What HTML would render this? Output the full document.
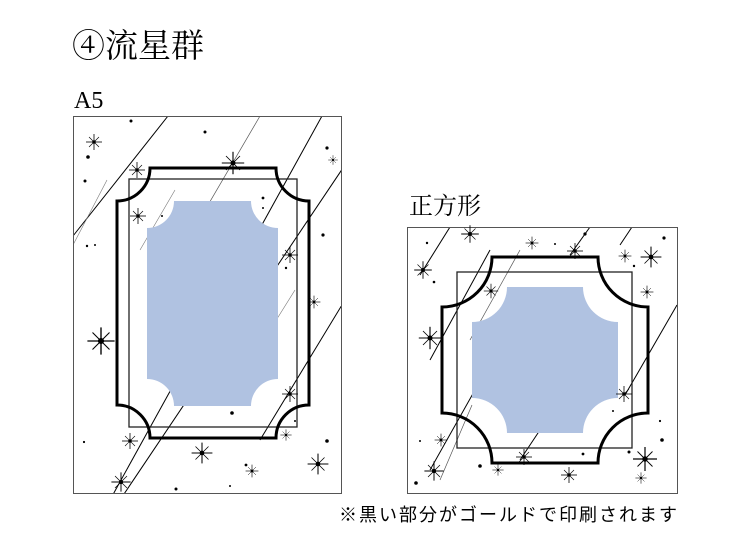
<!DOCTYPE html>
<html><head><meta charset="utf-8"><style>
html,body{margin:0;padding:0;background:#fff;}
svg{display:block}
</style></head><body>
<svg width="750" height="550" viewBox="0 0 750 550" xmlns="http://www.w3.org/2000/svg">
<defs>
<g id="s"><line x1="-8" y1="0" x2="8" y2="0" stroke="#000" stroke-width="0.8"/><line x1="0" y1="-8" x2="0" y2="8" stroke="#000" stroke-width="0.8"/><line x1="-5" y1="-5" x2="5" y2="5" stroke="#000" stroke-width="0.6"/><line x1="-5" y1="5" x2="5" y2="-5" stroke="#000" stroke-width="0.6"/><circle r="1.8" fill="#000"/></g>
<clipPath id="c1"><rect x="73" y="116" width="268" height="377"/></clipPath>
<clipPath id="c2"><rect x="407" y="227" width="270" height="266"/></clipPath>
</defs>
<text x="72" y="57" font-family="'Liberation Serif','Noto Serif CJK SC',serif" font-size="33">④流星群</text>
<text x="74" y="108" font-family="'Liberation Serif','Noto Serif CJK SC',serif" font-size="24">A5</text>
<text x="409" y="214" font-family="'Liberation Serif','Noto Serif CJK SC',serif" font-size="24">正方形</text>
<text x="339" y="521" font-family="'Liberation Sans','Noto Sans CJK JP',sans-serif" font-size="18" letter-spacing="2">※黒い部分がゴールドで印刷されます</text>

<g clip-path="url(#c1)" stroke="#000" stroke-width="1">
<line x1="168" y1="116" x2="73" y2="236"/>
<line x1="260" y1="116" x2="170" y2="270" stroke="#555" stroke-width="0.7"/>
<line x1="322" y1="116" x2="110" y2="500"/>
<line x1="345" y1="165" x2="120" y2="500"/>
<line x1="345" y1="300" x2="260" y2="440"/>
<line x1="107" y1="180" x2="73" y2="245" stroke="#777" stroke-width="0.6"/>
<line x1="295" y1="290" x2="270" y2="330" stroke="#777" stroke-width="0.6"/>
<line x1="175" y1="190" x2="140" y2="250" stroke="#777" stroke-width="0.6"/>
</g>
<g clip-path="url(#c2)" stroke="#000" stroke-width="1">
<line x1="450" y1="227" x2="420" y2="275"/>
<line x1="490" y1="250" x2="430" y2="360"/>
<line x1="520" y1="250" x2="470" y2="340" stroke="#555" stroke-width="0.7"/>
<line x1="590" y1="227" x2="570" y2="255"/>
<line x1="632" y1="227" x2="620" y2="245"/>
<line x1="677" y1="305" x2="625" y2="395"/>
<line x1="475" y1="390" x2="430" y2="470"/>
<line x1="472" y1="405" x2="440" y2="480" stroke="#555" stroke-width="0.7"/>
<line x1="540" y1="430" x2="520" y2="460"/>
</g>
<rect x="73.5" y="116.5" width="268" height="377" fill="none" stroke="#555" stroke-width="1"/>
<rect x="407.5" y="227.5" width="270" height="266" fill="none" stroke="#555" stroke-width="1"/>

<rect x="129" y="179" width="168" height="248" fill="none" stroke="#222" stroke-width="1.3"/>
<path d="M150,168 H276 A33 33 0 0 0 309,201 V405 A33 33 0 0 0 276,438 H150 A33 33 0 0 0 117,405 V201 A33 33 0 0 0 150,168 Z" fill="none" stroke="#000" stroke-width="3"/>
<path d="M174,201 H251 A27 27 0 0 0 278,228 V379 A27 27 0 0 0 251,406 H174 A27 27 0 0 0 147,379 V228 A27 27 0 0 0 174,201 Z" fill="#b0c2e1"/>

<rect x="457" y="272" width="175" height="176" fill="none" stroke="#222" stroke-width="1.3"/>
<path d="M492,257 H598 A50 50 0 0 0 648,307 V413 A50 50 0 0 0 598,463 H492 A50 50 0 0 0 442,413 V307 A50 50 0 0 0 492,257 Z" fill="none" stroke="#000" stroke-width="3"/>
<path d="M507,287 H583 A35 35 0 0 0 618,322 V398 A35 35 0 0 0 583,433 H507 A35 35 0 0 0 472,398 V322 A35 35 0 0 0 507,287 Z" fill="#b0c2e1"/>

<g>
<use href="#s" transform="translate(94,142)"/>
<use href="#s" transform="translate(137,170)"/>
<use href="#s" transform="translate(233,163) scale(1.4)"/>
<use href="#s" transform="translate(138,216)"/>
<use href="#s" transform="translate(290,255)"/>
<use href="#s" transform="translate(314,302) scale(0.8)"/>
<use href="#s" transform="translate(101,341) scale(1.7)"/>
<use href="#s" transform="translate(290,394)"/>
<use href="#s" transform="translate(130,441)"/>
<use href="#s" transform="translate(202,453) scale(1.3)"/>
<use href="#s" transform="translate(318,464) scale(1.3)"/>
<use href="#s" transform="translate(252,471) scale(0.8)"/>
<use href="#s" transform="translate(121,482) scale(1.2)"/>
<use href="#s" transform="translate(286,435) scale(0.7)"/>
<use href="#s" transform="translate(333,160) scale(0.6)"/>
<use href="#s" transform="translate(470,234) scale(1.1)"/>
<use href="#s" transform="translate(423,270) scale(1.1)"/>
<use href="#s" transform="translate(532,243) scale(0.8)"/>
<use href="#s" transform="translate(575,251)"/>
<use href="#s" transform="translate(651,257) scale(1.3)"/>
<use href="#s" transform="translate(625,256) scale(0.8)"/>
<use href="#s" transform="translate(647,292) scale(0.8)"/>
<use href="#s" transform="translate(430,338) scale(1.4)"/>
<use href="#s" transform="translate(491,291) scale(0.9)"/>
<use href="#s" transform="translate(624,394)"/>
<use href="#s" transform="translate(441,440) scale(0.8)"/>
<use href="#s" transform="translate(524,457)"/>
<use href="#s" transform="translate(645,459) scale(1.5)"/>
<use href="#s" transform="translate(434,471) scale(1.2)"/>
<use href="#s" transform="translate(569,475)"/>
<use href="#s" transform="translate(498,470) scale(0.7)"/>
<use href="#s" transform="translate(641,478) scale(0.7)"/>
</g>
<g fill="#000">
<circle cx="131" cy="121" r="1.5"/><circle cx="205" cy="132" r="1.5"/><circle cx="88" cy="157" r="1.8"/><circle cx="85" cy="181" r="1.5"/><circle cx="87" cy="246" r="1.2"/><circle cx="95" cy="245" r="1"/><circle cx="327" cy="148" r="1.6"/><circle cx="263" cy="198" r="1.4"/><circle cx="263" cy="208" r="1"/><circle cx="323" cy="235" r="1.6"/><circle cx="286" cy="268" r="1.2"/><circle cx="162" cy="216" r="1"/><circle cx="232" cy="413" r="1.8"/><circle cx="327" cy="441" r="1.8"/><circle cx="246" cy="465" r="1.4"/><circle cx="176" cy="489" r="1.5"/><circle cx="84" cy="442" r="1.1"/><circle cx="230" cy="486" r="1"/><circle cx="295" cy="421" r="1"/>
<circle cx="427" cy="243" r="1.2"/><circle cx="434" cy="282" r="1.3"/><circle cx="585" cy="234" r="1.6"/><circle cx="664" cy="238" r="1.6"/><circle cx="555" cy="244" r="1"/><circle cx="634" cy="266" r="1.2"/><circle cx="662" cy="440" r="1.8"/><circle cx="629" cy="452" r="1.5"/><circle cx="583" cy="454" r="1.4"/><circle cx="480" cy="466" r="1.8"/><circle cx="416" cy="483" r="1.8"/><circle cx="420" cy="441" r="1"/><circle cx="660" cy="421" r="1.1"/><circle cx="613" cy="411" r="1"/>
</g>
</svg>
</body></html>
